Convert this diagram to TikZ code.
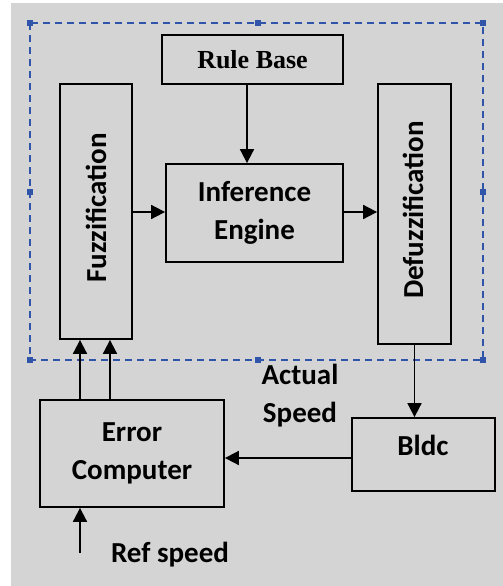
\documentclass[tikz,border=0pt]{standalone}
\usepackage{fontspec}
\usetikzlibrary{arrows.meta}
\newfontfamily\calfont{Carlito}
\newfontfamily\tmsfont{Liberation Serif}
\definecolor{bggray}{HTML}{D4D4D4}
\definecolor{dashblue}{HTML}{2F54AA}
\begin{document}
\begin{tikzpicture}[x=1pt,y=-1pt,
  box/.style={draw=black,line width=1.8pt,inner sep=0pt,
    font=\calfont\bfseries\fontsize{29}{38}\selectfont,align=center},
  lbl/.style={inner sep=0pt,font=\calfont\bfseries\fontsize{29}{38}\selectfont,align=center},
  arr/.style={line width=1.8pt,-{Triangle[length=14pt,width=14pt]}},
  handle/.style={fill=dashblue,draw=none,minimum size=5.5pt,inner sep=0pt}]
\useasboundingbox (0,0) rectangle (503,586);
\fill[bggray] (11,3) rectangle (503,586);
% dashed frame
\draw[dashblue,line width=2pt,dash pattern=on 7pt off 5pt] (30,23) rectangle (483,360);
\foreach \hx/\hy/\hn in {30/23/h1,258/23/h2,483/23/h3,30/192/h4,483/192/h5,30/360/h6,258/360/h7,483/360/h8}
  \node[handle] (\hn) at (\hx,\hy) {};
% blocks
\node[box,minimum width=181pt,minimum height=49pt,font=\tmsfont\bfseries\fontsize{26}{30}\selectfont] (rb) at (252.5,59.5) {Rule Base};
\node[box,minimum width=72pt,minimum height=255pt] (fz) at (96,211.5) {};
\node[lbl,rotate=90] (fzt) at (96,208) {Fuzzification};
\node[box,minimum width=73pt,minimum height=260pt] (dz) at (414.5,214) {};
\node[lbl,rotate=90] (dzt) at (413,210) {Defuzzification};
\node[box,minimum width=177pt,minimum height=98pt] (ie) at (254.5,213) {Inference\\Engine};
\node[box,minimum width=184pt,minimum height=107pt] (ec) at (132,453.5) {Error\\Computer};
\node[box,minimum width=143pt,minimum height=73pt] (bl) at (423.5,454.5) {};
\node[lbl] (blt) at (423,445) {Bldc};
\node[lbl] (as) at (300,396) {Actual\\Speed};
\node[lbl] (rs) at (170,555) {Ref speed};
% helper coordinates
\coordinate (c1) at (247,0);
\coordinate (c2) at (80,0);
\coordinate (c3) at (110,0);
\coordinate (c4) at (0,458);
\coordinate (c5) at (80,553);
\coordinate (c6) at (0,212);
% connectors
\draw[arr] (rb.south -| c1) -- (ie.north -| c1);
\draw[arr] (fz.east |- c6) -- (ie.west |- c6);
\draw[arr] (ie.east |- c6) -- (dz.west |- c6);
\draw[arr] (ec.north -| c2) -- (fz.south -| c2);
\draw[arr] (ec.north -| c3) -- (fz.south -| c3);
\draw[arr] (dz.south) -- (bl.north -| dz.south);
\draw[arr] (bl.west |- c4) -- (ec.east |- c4);
\draw[arr] (c5) -- (ec.south -| c5);
\end{tikzpicture}
\end{document}
